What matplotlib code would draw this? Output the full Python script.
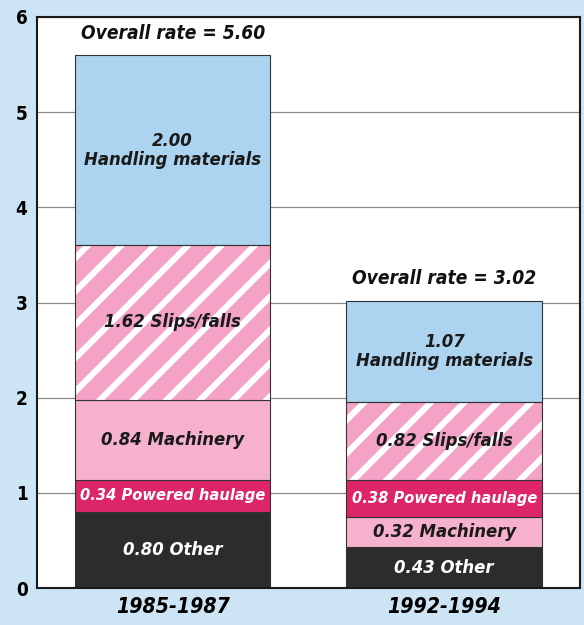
import matplotlib
matplotlib.use('Agg')
import matplotlib.pyplot as plt

# data
periods = ['1985-1987', '1992-1994']
overall = [5.60, 3.02]

# each period stacks its causes in its own order (bottom to top)
names_1 = ['Other', 'Powered haulage', 'Machinery', 'Slips/falls', 'Handling materials']
vals_1 = [0.80, 0.34, 0.84, 1.62, 2.00]
names_2 = ['Other', 'Machinery', 'Powered haulage', 'Slips/falls', 'Handling materials']
vals_2 = [0.43, 0.32, 0.38, 0.82, 1.07]

colors = {'Other': '#2e2b2c', 'Powered haulage': '#dc2668', 'Machinery': '#f6b1cd',
          'Slips/falls': '#f4a2c5', 'Handling materials': '#acd3ef'}
text_colors = {'Other': 'white', 'Powered haulage': 'white', 'Machinery': '#1a1a1a',
               'Slips/falls': '#1a1a1a', 'Handling materials': '#1a1a1a'}

bg = '#cde4f4'
plt.rcParams['hatch.linewidth'] = 2.2
font = dict(family='DejaVu Sans', fontstretch='condensed', fontweight='bold')

# dpi 200 so the hatch spacing matches the wide stripes
fig = plt.figure(figsize=(2.92, 3.125), dpi=200, facecolor=bg)
ax = fig.add_axes([0.0634, 0.0592, 0.9296, 0.9136])
ax.set_facecolor('white')

xs = [0.5, 1.5]
width = 0.72
for x, names, vals in zip(xs, [names_1, names_2], [vals_1, vals_2]):
    bottom = 0
    for n, v in zip(names, vals):
        if n == 'Slips/falls':
            ax.bar(x, v, width, bottom=bottom, color=colors[n], edgecolor='white',
                   hatch='//', linewidth=0, zorder=2)
            ax.bar(x, v, width, bottom=bottom, fill=False, edgecolor='#333333',
                   linewidth=0.4, zorder=3)
        else:
            ax.bar(x, v, width, bottom=bottom, color=colors[n], edgecolor='#333333',
                   linewidth=0.4, zorder=2)
        if n == 'Handling materials':
            label = '%.2f\n%s' % (v, n)
        else:
            label = '%.2f %s' % (v, n)
        fs = 5.9 if n == 'Powered haulage' else 6.6
        ax.text(x, bottom + v / 2, label, ha='center', va='center', fontsize=fs,
                style='italic', color=text_colors[n], linespacing=1.05, zorder=4, **font)
        bottom += v

for x, tot in zip(xs, overall):
    ax.annotate('Overall rate = %.2f' % tot, (x, tot), xytext=(0, 4.5),
                textcoords='offset points', ha='center', va='bottom', fontsize=6.9,
                style='italic', color='#111111', **font)

ax.set_xlim(0, 2)
ax.set_ylim(0, 6)
ax.set_yticks(range(7))
ax.set_yticklabels([str(i) for i in range(7)], fontsize=6.8, **font)
ax.set_xticks(xs)
ax.set_xticklabels(periods, fontsize=7.6, style='italic', **font)
ax.tick_params(length=0)
ax.tick_params(axis='y', pad=3.4)
ax.tick_params(axis='x', pad=3.4)
ax.yaxis.grid(True, color='#8a8a8a', linewidth=0.45)
ax.set_axisbelow(True)
for s in ax.spines.values():
    s.set_linewidth(0.75)
    s.set_color('#1a1a1a')

fig.savefig('out.png', dpi=200, facecolor=bg)
